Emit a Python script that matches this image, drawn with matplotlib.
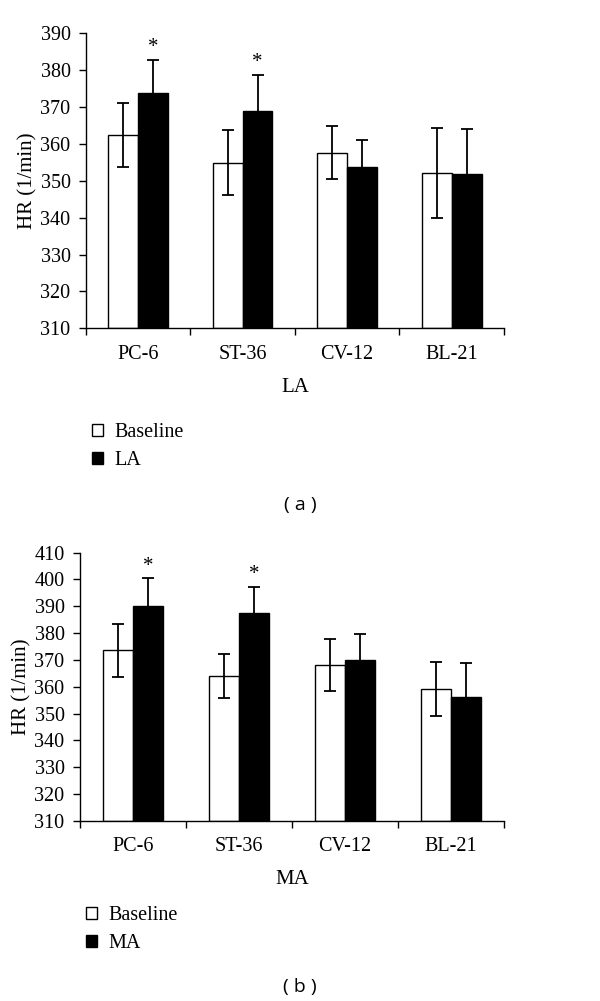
import numpy as np
import matplotlib
matplotlib.use("Agg")
import matplotlib.pyplot as plt

sites = ["PC-6", "ST-36", "CV-12", "BL-21"]

# (a) LA
la_base = [362.4, 354.9, 357.6, 352.2]
la_base_err = [8.6, 8.8, 7.2, 12.2]
la_treat = [373.7, 368.9, 353.8, 351.8]
la_treat_err = [9.0, 9.7, 7.1, 12.1]
la_sig = [True, True, False, False]

# (b) MA
ma_base = [373.5, 363.9, 368.0, 359.2]
ma_base_err = [9.8, 8.2, 9.6, 10.0]
ma_treat = [390.1, 387.6, 369.9, 356.1]
ma_treat_err = [10.3, 9.7, 9.7, 12.8]
ma_sig = [True, True, False, False]

plt.rcParams['font.family'] = ['Liberation Serif', 'DejaVu Serif']

fig = plt.figure(figsize=(6, 10.01), dpi=100)


def panel(rect, base, base_err, treat, treat_err, sig, ylim, xlabel, tag, leg_y, tag_y):
    ax = fig.add_axes(rect)
    x = np.arange(len(sites))
    w = 0.285
    bkw = dict(edgecolor='black', linewidth=1.0, zorder=2)
    b1 = ax.bar(x - w / 2, np.array(base) - ylim[0], w, bottom=ylim[0], color='white', **bkw)
    b2 = ax.bar(x + w / 2, np.array(treat) - ylim[0], w, bottom=ylim[0], color='black', **bkw)
    ekw = dict(fmt='none', ecolor='black', elinewidth=1.3, capsize=4, capthick=1.3, zorder=3)
    ax.errorbar(x - w / 2, base, yerr=base_err, **ekw)
    ax.errorbar(x + w / 2, treat, yerr=treat_err, **ekw)
    for i, s in enumerate(sig):
        if s:
            ax.text(x[i] + w / 2, treat[i] + treat_err[i] + 0.8, "*",
                    ha='center', va='bottom', fontsize=15)

    ax.set_xlim(-0.5, len(sites) - 0.5)
    ax.set_ylim(*ylim)
    ax.set_yticks(np.arange(ylim[0], ylim[1] + 1, 10))
    ax.set_xticks(np.arange(len(sites) + 1) - 0.5)
    ax.set_xticklabels([])
    ax.set_xticks(x, minor=True)
    ax.set_xticklabels(sites, minor=True)
    ax.tick_params(axis='x', which='minor', length=0, labelsize=14.5, pad=12)
    ax.tick_params(axis='x', which='major', length=5, width=1, direction='out')
    ax.tick_params(axis='y', length=5, width=1, labelsize=14.5, pad=6)
    for sp in ['top', 'right']:
        ax.spines[sp].set_visible(False)
    for sp in ['left', 'bottom']:
        ax.spines[sp].set_linewidth(1)
    ax.set_ylabel("HR (1/min)", fontsize=15, labelpad=2)
    ax.set_xlabel(xlabel, fontsize=15, labelpad=10)

    fig.legend([b1, b2], ["Baseline", xlabel], loc='upper left',
               bbox_to_anchor=(rect[0] - 0.02, leg_y), frameon=False, fontsize=14.5,
               handlelength=0.55, handleheight=0.55, handletextpad=0.55, labelspacing=0.45)
    fig.text(0.5, tag_y, tag, ha='center', va='center', fontsize=14,
             family=['Open Sans', 'DejaVu Sans'])
    return ax


panel([0.143, 0.672, 0.697, 0.295], la_base, la_base_err, la_treat, la_treat_err, la_sig,
      (310, 390), "LA", "( a )", 1 - 405 / 1001, 1 - 505 / 1001)
panel([0.133, 0.180, 0.707, 0.268], ma_base, ma_base_err, ma_treat, ma_treat_err, ma_sig,
      (310, 410), "MA", "( b )", 1 - 888 / 1001, 1 - 987 / 1001)

fig.savefig("out.png", dpi=100)
